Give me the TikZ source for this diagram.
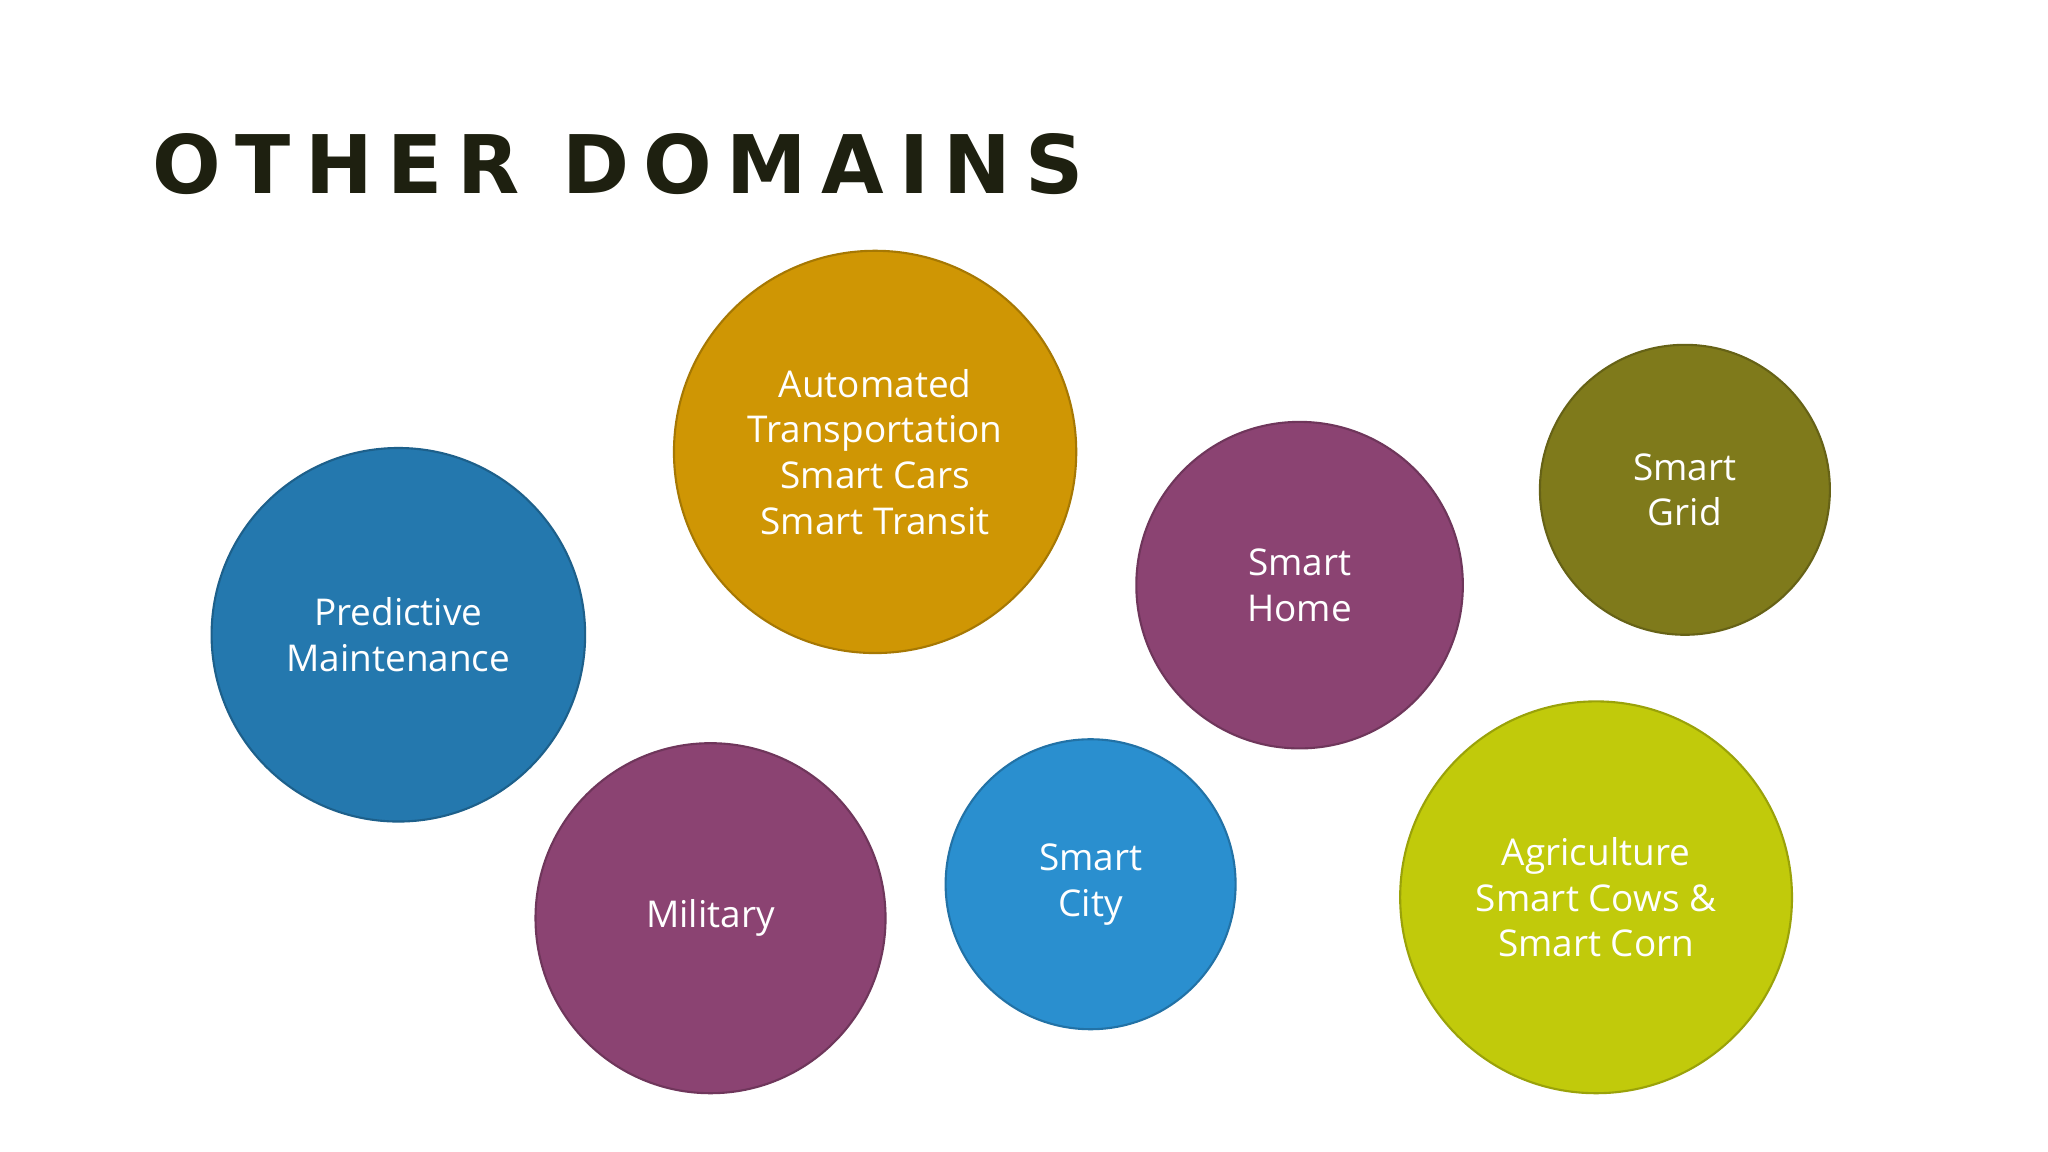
\documentclass[tikz,border=0pt]{standalone}
\usepackage{fontspec}
\setmainfont{Open Sans}
\newfontfamily\titlefont[LetterSpace=18]{DejaVu Sans}
\definecolor{cblue}{HTML}{2478AE}
\definecolor{cgold}{HTML}{CF9604}
\definecolor{cpurple}{HTML}{8B4372}
\definecolor{colive}{HTML}{7F7A1B}
\definecolor{clblue}{HTML}{2A8FCF}
\definecolor{clime}{HTML}{C1CA0B}
\definecolor{ctitle}{HTML}{1E2010}
\begin{document}
\begin{tikzpicture}[x=0.013061cm,y=-0.013061cm,
  bub/.style={circle,draw=#1!80!black,fill=#1,line width=0.6pt,text=white,align=center,
    font=\fontsize{10.5}{13}\selectfont,inner sep=0pt}]
\useasboundingbox[fill=white] (0,0) rectangle (1568,882);
\node[anchor=base west,text=ctitle,font=\titlefont\bfseries\fontsize{23}{26}\selectfont,inner sep=0pt] (title) at (116,148) {OTHER DOMAINS};
\node[bub=cblue,minimum size=286*0.013061cm] (pm) at (305,486) {Predictive\\Maintenance};
\node[bub=cgold,minimum size=308*0.013061cm] (at) at (670,346) {Automated\\Transportation\\Smart Cars\\Smart Transit};
\node[bub=cpurple,minimum size=250*0.013061cm] (sh) at (995,448) {Smart\\Home};
\node[bub=colive,minimum size=222*0.013061cm] (sg) at (1290,375) {Smart\\Grid};
\node[bub=cpurple,minimum size=268*0.013061cm] (mi) at (544,703) {Military};
\node[bub=clblue,minimum size=222*0.013061cm] (sc) at (835,677) {Smart\\City};
\node[bub=clime,minimum size=300*0.013061cm] (ag) at (1222,687) {Agriculture\\Smart Cows \&\\Smart Corn};
\end{tikzpicture}
\end{document}
